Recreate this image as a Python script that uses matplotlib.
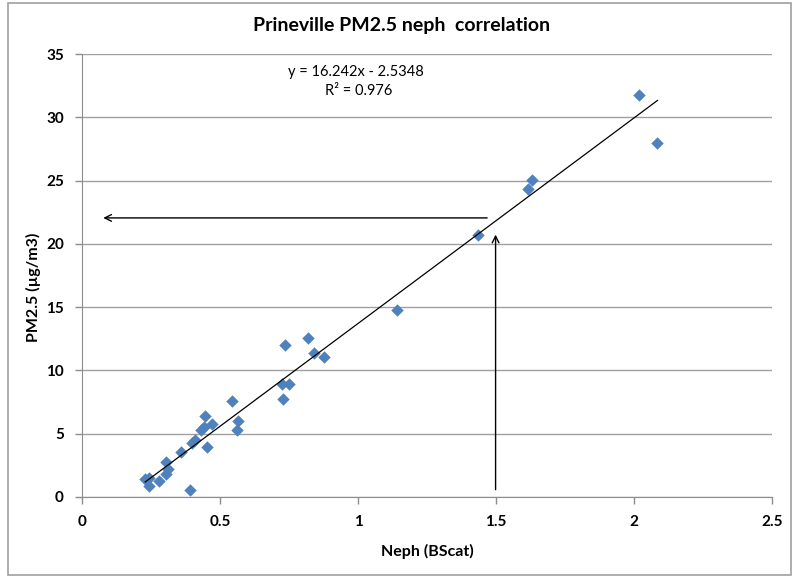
import matplotlib
matplotlib.use("Agg")
import matplotlib.pyplot as plt
from matplotlib.patches import Rectangle

plt.rcParams['font.family'] = ['Lato', 'DejaVu Sans']

# Neph (BScat) vs PM2.5 (ug/m3)
neph = [0.229, 0.244, 0.241, 0.280, 0.305, 0.313, 0.305, 0.358, 0.392, 0.400,
        0.410, 0.431, 0.443, 0.446, 0.452, 0.471, 0.543, 0.563, 0.567, 0.725,
        0.730, 0.749, 0.737, 0.818, 0.839, 0.876, 1.142, 1.434, 1.615, 1.630,
        2.017, 2.085]
pm25 = [1.45, 1.53, 0.85, 1.26, 2.76, 2.24, 1.79, 3.55, 0.58, 4.30,
        4.53, 5.27, 5.53, 6.37, 3.95, 5.74, 7.56, 5.27, 5.98, 8.90,
        7.77, 8.96, 11.99, 12.56, 11.37, 11.06, 14.75, 20.70, 24.30, 25.02,
        31.79, 27.99]

# linear trendline from the chart label
slope = 16.242
intercept = -2.5348

# reading arrows (data coords)
h_arrow = [(1.468, 22.05), (0.077, 22.05)]
v_arrow = [(1.4985, 0.58), (1.4985, 20.73)]

xticks = [0, 0.5, 1, 1.5, 2, 2.5]
yticks = [0, 5, 10, 15, 20, 25, 30, 35]

fig = plt.figure(figsize=(7.92, 5.76), dpi=100)
ax = fig.add_axes([82 / 792, 79 / 576, 690 / 792, 443 / 576])

# chart border
fig.patches.append(Rectangle((8 / 792, 1 / 576), 783 / 792, 572 / 576,
                             transform=fig.transFigure, fill=False,
                             edgecolor='#a0a0a0', linewidth=1.2))

ax.set_xlim(0, 2.5)
ax.set_ylim(0, 35)
ax.set_xticks(xticks)
ax.set_yticks(yticks)
ax.set_xticklabels(['0', '0.5', '1', '1.5', '2', '2.5'])
ax.grid(axis='y', color='#a0a0a0', linewidth=1.0)
ax.set_axisbelow(True)
for side in ['top', 'right']:
    ax.spines[side].set_visible(False)
for side in ['left', 'bottom']:
    ax.spines[side].set_color('#8c8c8c')
ax.tick_params(axis='both', colors='#8c8c8c', length=5, width=1,
               labelcolor='black', labelsize=11, pad=8)
for lbl in ax.get_xticklabels() + ax.get_yticklabels():
    lbl.set_fontweight('bold')

ax.scatter(neph, pm25, marker='D', s=40, color='#4f81bd', zorder=3,
           linewidths=0)

xs = [min(neph), max(neph)]
ax.plot(xs, [slope * v + intercept for v in xs], color='black',
        linewidth=0.9, zorder=4)

ax.annotate('', xy=h_arrow[1], xytext=h_arrow[0],
            arrowprops=dict(arrowstyle='->', color='black', lw=1.0,
                            shrinkA=0, shrinkB=0, mutation_scale=12))
ax.annotate('', xy=v_arrow[1], xytext=v_arrow[0],
            arrowprops=dict(arrowstyle='->', color='black', lw=1.0,
                            shrinkA=0, shrinkB=0, mutation_scale=12))

fig.text(356 / 792, 1 - 72 / 576, 'y = 16.242x - 2.5348', ha='center',
         va='center', fontsize=10.5)
fig.text(359 / 792, 1 - 91 / 576, 'R² = 0.976', ha='center',
         va='center', fontsize=10.5)

fig.text(402 / 792, 1 - 25 / 576, 'Prineville PM2.5 neph  correlation',
         ha='center', va='center', fontsize=14, fontweight='bold')
fig.text(427 / 792, 1 - 551 / 576, 'Neph (BScat)', ha='center',
         va='center', fontsize=11.5, fontweight='bold')
fig.text(33 / 792, 1 - 287 / 576, 'PM2.5 (µg/m3)', ha='center',
         va='center', fontsize=11.5, fontweight='bold', rotation=90)

fig.savefig('out.png', dpi=100)
